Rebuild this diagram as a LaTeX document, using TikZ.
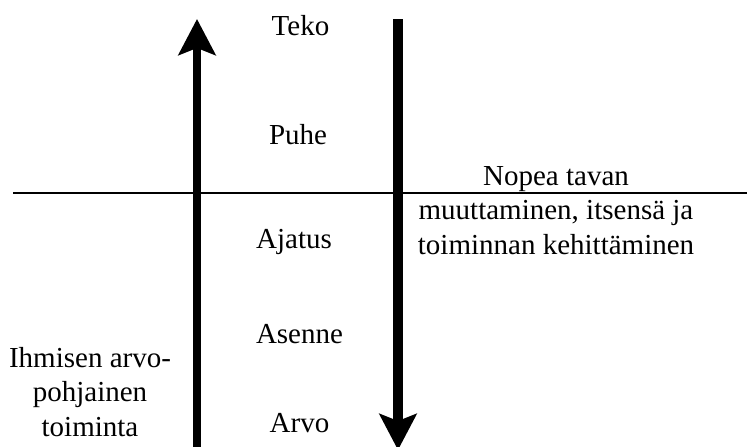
\documentclass[tikz,border=0pt]{standalone}
\usepackage{fontspec}
\setmainfont{Liberation Serif}
\usetikzlibrary{arrows.meta}

\begin{document}
\begin{tikzpicture}[x=1pt,y=-1pt,
    teksti/.style={font=\fontsize{29}{34.5}\selectfont,inner sep=0pt,anchor=base},
    nuoli/.style={line width=#1,-{Stealth[length=36pt,width=37pt,inset=7pt]}}]
  \useasboundingbox (0,0) rectangle (747,447);

  % tasot
  \node[teksti] (teko)   at (300.5,35)  {Teko};
  \node[teksti] (puhe)   at (298,144)   {Puhe};
  \node[teksti] (ajatus) at (294,248)   {Ajatus};
  \node[teksti] (asenne) at (299.5,343) {Asenne};
  \node[teksti] (arvo)   at (299.5,432) {Arvo};

  % base = viimeinen rivi
  \node[teksti,align=center] (ihminen) at (90,436) {Ihmisen arvo-\\pohjainen\\toiminta};
  \node[teksti,align=center] (nopea) at (556,254) {Nopea tavan\\muuttaminen, itsensä ja\\toiminnan kehittäminen};

  % nuolet ja raja
  \coordinate (ylos-a) at (197,447);
  \coordinate (ylos-b) at (197,19);
  \coordinate (alas-a) at (398,19);
  \coordinate (alas-b) at (398,450);
  \coordinate (raja-a) at (13,193);
  \coordinate (raja-b) at (747,193);

  \draw[nuoli=8pt] (ylos-a) -- (ylos-b);
  \draw[nuoli=10pt] (alas-a) -- (alas-b);
  \draw[line width=1.5pt] (raja-a) -- (raja-b);
\end{tikzpicture}
\end{document}
